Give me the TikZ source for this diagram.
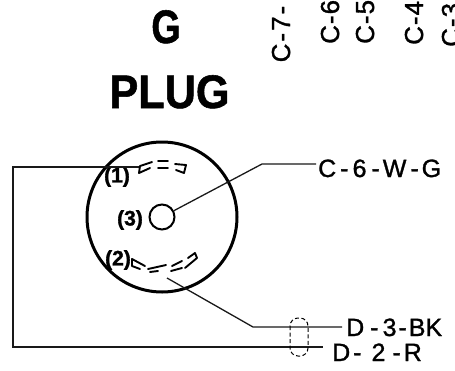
\documentclass[tikz,border=0pt]{standalone}
\usepackage{fontspec}
\setmainfont{TeX Gyre Heros}
\newfontfamily\lblfont[FakeBold=1.2]{Liberation Sans}
\newfontfamily\pinfont[FakeBold=1.5]{Liberation Sans}
\newfontfamily\ttlfont[FakeBold=1.2]{Liberation Sans}
\newcommand{\fs}[1]{\fontsize{#1}{#1}\selectfont}
\tikzset{
  x=1pt,y=-1pt,
  wire/.style={line width=1.3pt,black!90},
  slot/.style={line width=1.9pt,line cap=round,line join=round},
  lbl/.style={inner sep=0pt,anchor=base west,font=\lblfont\fs{25}},
  vlbl/.style={inner sep=0pt,anchor=base west,rotate=90,font=\lblfont\fs{26}},
  pin/.style={inner sep=0pt,anchor=center,font=\pinfont\fs{21}\bfseries},
  title/.style={inner sep=0pt,anchor=base,font=\ttlfont\fs{47}\bfseries}
}
\begin{document}
\begin{tikzpicture}
\useasboundingbox (0,0) rectangle (455,370);
\clip (0,0) rectangle (455,370);
% titles
\node[title,xscale=.8] (tg) at (166,43) {G};
\node[title,xscale=.92] (tp) at (169.5,108) {PLUG};
% rotated labels
\node[vlbl] (c7) at (290,62.5) {C\hspace{2pt}-\hspace{2pt}7\hspace{2pt}-};
\node[vlbl] (c6) at (339,44) {C\hspace{1pt}-\hspace{1pt}6};
\node[vlbl] (c5) at (374,44) {C\hspace{1pt}-\hspace{1pt}5};
\node[vlbl] (c4) at (423,45) {C\hspace{1pt}-\hspace{1pt}4};
\node[vlbl] (c3) at (460,47) {C\hspace{1pt}-\hspace{1pt}3};
% plug
\node[circle,draw,line width=3pt,minimum size=150pt,inner sep=0pt] (plug) at (162,217) {};
\node[circle,draw,line width=2pt,minimum size=25pt,inner sep=0pt] (hub) at (162,217) {};
\node[pin] (p1) at (117,177) {(1)};
\node[pin] (p2) at (118,260) {(2)};
\node[pin] (p3) at (130,220) {(3)};
% end labels
\node[lbl] (w1) at (318,177) {C\hspace{4pt}-\hspace{4pt}6\hspace{5pt}-\hspace{3pt}W\hspace{4pt}-\hspace{3pt}G};
\node[lbl] (w2) at (346,336) {D\hspace{6pt}-\hspace{4pt}3\hspace{2pt}-\hspace{2pt}BK};
\node[lbl] (w3) at (332,361) {D\hspace{3pt}-\hspace{10pt}2\hspace{7pt}-\hspace{3pt}R};
% wire coordinates
\coordinate (a1) at (140,167);
\coordinate (a2) at (13,167);
\coordinate (a3) at (13,347);
\coordinate (a4) at (323,347);
\coordinate (b1) at (167,278);
\coordinate (b2) at (253,327);
\coordinate (b3) at (342,327);
\coordinate (h2) at (262,164);
\coordinate (h3) at (316,164);
\draw[wire] (a1) -- (a2) -- (a3) -- (a4);
\draw[wire] (b1) -- (b2) -- (b3);
\draw[wire] (hub) -- (h2) -- (h3);
% top slot
\draw[slot] (152,162) -- (140,166) -- (139,173) -- (150,168);
\draw[slot] (158,161) -- (168,161);
\draw[slot] (158,168) -- (168,168);
\draw[slot] (175,164) -- (186,165) -- (184,173) -- (176,170);
% bottom slot
\draw[slot] (145,266) -- (132,259) -- (132,266) -- (140,269);
\draw[slot] (148,269) -- (166,265);
\draw[slot] (150,272) -- (158,271);
\draw[slot] (172,266) -- (182,261);
\draw[slot] (171,271) -- (182,268);
\draw[slot] (188,258) -- (195,253) -- (197,258) -- (185,268);
% wire bundle loop
\draw[line width=1pt,dash pattern=on 4pt off 2.5pt,rounded corners=8pt] (290,318) rectangle (308,356);
\end{tikzpicture}
\end{document}
